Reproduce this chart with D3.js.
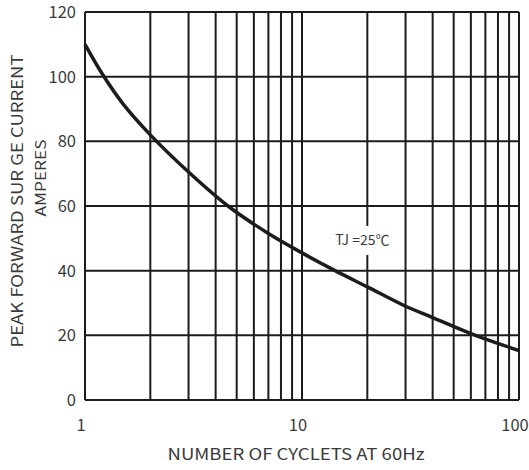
<!DOCTYPE html>
<html>
<head>
<meta charset="utf-8">
<script src="https://cdn.jsdelivr.net/npm/d3@7"></script>
<style>
  body { margin: 0; background: #fff; }
  text { font-family: 'Noto Sans CJK SC', 'Noto Sans', sans-serif; fill: #3a3a3a; }
</style>
</head>
<body>
<script>
// surge current curve
const cycles = [1, 1.21, 1.5, 2, 3, 4.56, 7, 10, 14.2, 20, 30, 40, 63, 100]
const amps = [110, 100.5, 91.5, 82, 70.5, 60, 51.5, 45.5, 40, 35, 29, 25.5, 20, 15.3]

const yTicks = [0, 20, 40, 60, 80, 100, 120]
const xTickLabels = [1, 10, 100]
const xGrid = [1, 2, 3, 4, 5, 6, 7, 8, 9, 10, 20, 30, 40, 50, 60, 70, 80, 90, 100]

const outerWidth = 529
const outerHeight = 470
const margin = { left: 85, top: 12, right: 10, bottom: 70 }
const innerWidth = outerWidth - margin.left - margin.right
const innerHeight = outerHeight - margin.top - margin.bottom

const lineColor = '#1c1c1c'

const svg = d3.select('body')
  .append('svg')
  .attr('width', outerWidth)
  .attr('height', outerHeight)

const g = svg.append('g')
  .attr('transform', `translate(${margin.left},${margin.top})`)

const xScale = d3.scaleLog().domain([1, 100]).range([0, innerWidth])
const yScale = d3.scaleLinear().domain([0, 120]).range([innerHeight, 0])

// grid
g.selectAll('.vgrid').data(xGrid).enter()
  .append('line')
  .attr('class', 'vgrid')
  .attr('x1', d => xScale(d)).attr('x2', d => xScale(d))
  .attr('y1', 0).attr('y2', innerHeight)
  .style('stroke', lineColor).style('stroke-width', 2)

g.selectAll('.hgrid').data(yTicks).enter()
  .append('line')
  .attr('class', 'hgrid')
  .attr('x1', 0).attr('x2', innerWidth)
  .attr('y1', d => yScale(d)).attr('y2', d => yScale(d))
  .style('stroke', lineColor).style('stroke-width', 2)

// y tick labels
g.selectAll('.ylab').data(yTicks).enter()
  .append('text')
  .attr('class', 'ylab')
  .attr('x', -9)
  .attr('y', d => yScale(d))
  .attr('dy', '0.36em')
  .style('text-anchor', 'end')
  .style('font-size', '16.5px')
  .text(d => d)

// x tick labels
g.selectAll('.xlab').data(xTickLabels).enter()
  .append('text')
  .attr('class', 'xlab')
  .attr('x', d => xScale(d) - 4)
  .attr('y', innerHeight + 31)
  .style('text-anchor', 'middle')
  .style('font-size', '16.5px')
  .text(d => d)

// curve
const line = d3.line()
  .x(d => xScale(d[0]))
  .y(d => yScale(d[1]))
  .curve(d3.curveCatmullRom)

g.append('path')
  .datum(cycles.map((c, i) => [c, amps[i]]))
  .attr('d', line)
  .style('fill', 'none')
  .style('stroke', lineColor)
  .style('stroke-width', 3.5)

// TJ label with white box
const tjX = xScale(20) - 5
const tjY = yScale(49.5)
g.append('rect')
  .attr('x', tjX - 34).attr('y', tjY - 14)
  .attr('width', 68).attr('height', 29)
  .style('fill', '#fff')
g.append('text')
  .attr('x', tjX).attr('y', tjY)
  .attr('dy', '0.35em')
  .style('text-anchor', 'middle')
  .style('font-size', '14px')
  .text('TJ =25℃')

// axis titles
svg.append('text')
  .attr('x', 296).attr('y', 460)
  .style('text-anchor', 'middle')
  .style('font-size', '16px')
  .attr('textLength', 257)
  .attr('lengthAdjust', 'spacingAndGlyphs')
  .text('NUMBER OF CYCLETS AT 60Hz')

svg.append('text')
  .attr('transform', 'translate(23,201) rotate(-90)')
  .style('text-anchor', 'middle')
  .style('font-size', '16px')
  .attr('textLength', 293)
  .attr('lengthAdjust', 'spacingAndGlyphs')
  .text('PEAK FORWARD SUR GE CURRENT')

svg.append('text')
  .attr('transform', 'translate(46,178) rotate(-90)')
  .style('text-anchor', 'middle')
  .style('font-size', '14px')
  .attr('textLength', 77)
  .attr('lengthAdjust', 'spacingAndGlyphs')
  .text('AMPERES')
</script>
</body>
</html>
